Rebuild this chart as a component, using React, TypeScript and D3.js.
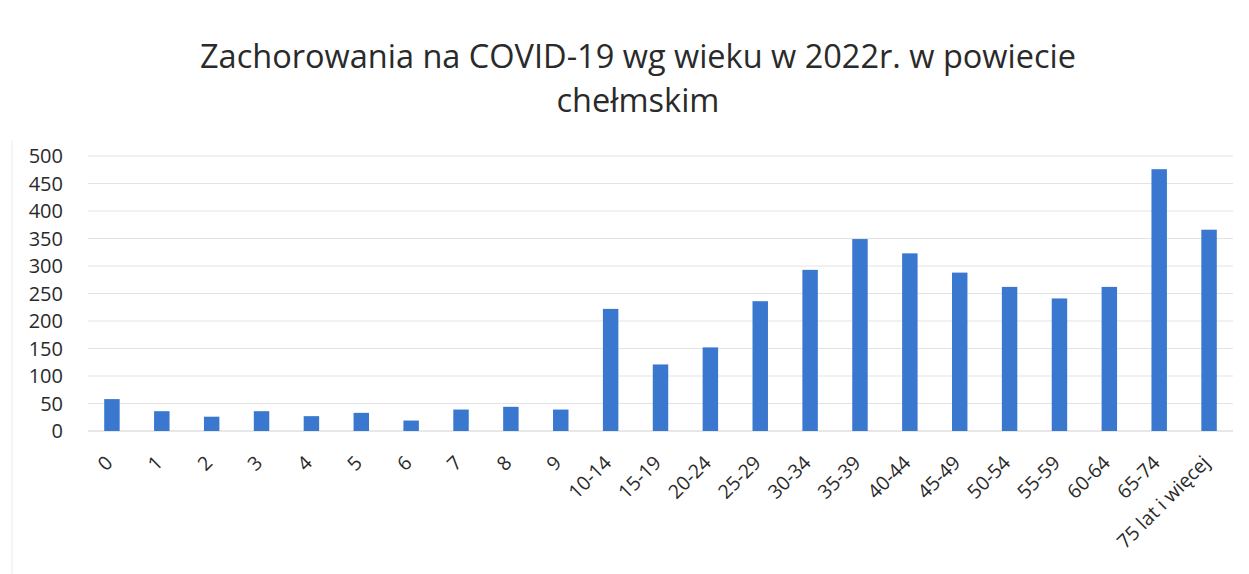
import React from "react";
import * as d3 from "d3";

const categories = ["0","1","2","3","4","5","6","7","8","9","10-14","15-19","20-24","25-29","30-34","35-39","40-44","45-49","50-54","55-59","60-64","65-74","75 lat i więcej"];
const cases = [58,36,26,36,27,33,19,39,44,39,222,121,152,236,293,349,323,288,262,241,262,476,366];
const yTicks = [0,50,100,150,200,250,300,350,400,450,500];
const titleLines = ["Zachorowania na COVID-19 wg wieku w 2022r. w powiecie", "chełmskim"];

const W = 1249, H = 574;
const FONT = "'Open Sans', sans-serif";

export default function App() {
  const x = d3.scaleBand<string>().domain(categories).range([87, 1234]).paddingInner(0.69).paddingOuter(0.345);
  const y = d3.scaleLinear().domain([0, 500]).range([431, 156]);
  return (
    <svg width={W} height={H} style={{ position: "absolute", left: 0, top: 0, background: "#fff" }} fontFamily={FONT}>
      <rect x={0} y={0} width={W} height={H} fill="#fff" />
      <line x1={12} x2={12} y1={140} y2={574} stroke="#ececec" strokeWidth={1} />
      {titleLines.map((t, i) => (
        <text key={i} x={638} y={68 + i * 44} textAnchor="middle" fontSize={32.5} fill="#2a2a2a">{t}</text>
      ))}
      {yTicks.map((t) => (
        <g key={t}>
          <line x1={88} x2={1233} y1={y(t)} y2={y(t)} stroke={t === 0 ? "#d0d0d0" : "#e3e3e3"} strokeWidth={1} />
          <text x={63} y={y(t)} dy="0.35em" textAnchor="end" fontSize={20} fill="#2a2a2a">{t}</text>
        </g>
      ))}
      {categories.map((c, i) => (
        <rect key={c} x={x(c)} y={y(cases[i])} width={x.bandwidth()} height={y(0) - y(cases[i])} fill="#3a78d0" />
      ))}
      {categories.map((c) => {
        const cx = (x(c) as number) + x.bandwidth() / 2 + 2;
        const cy = 464;
        return (
          <text key={c} transform={`translate(${cx},${cy}) rotate(-45)`} textAnchor="end" fontSize={19.5} fill="#2a2a2a">{c}</text>
        );
      })}
    </svg>
  );
}
